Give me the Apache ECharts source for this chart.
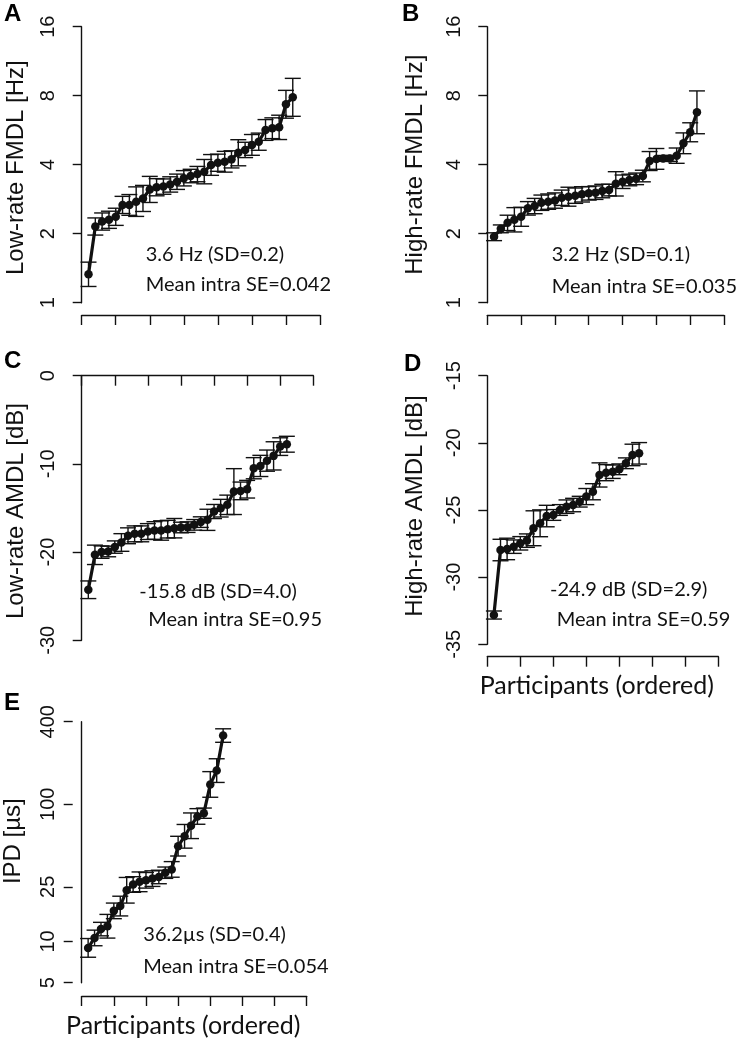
<!DOCTYPE html>
<html>
<head>
<meta charset="utf-8">
<script src="https://cdn.jsdelivr.net/npm/echarts@6/dist/echarts.min.js"></script>
<style>
html,body{margin:0;padding:0;background:#fff;}
#chart{width:742px;height:1039px;}
</style>
</head>
<body>
<div id="chart"></div>
<script>
// ---------- data ----------
const participantTicks = [0, 5, 10, 15, 20, 25, 30, 35];

const fmdlTicks = [1, 2, 4, 8, 16];
const fmdlLow = [1.33, 2.15, 2.26, 2.30, 2.37, 2.67, 2.67, 2.76, 2.85, 3.12, 3.19, 3.21, 3.28, 3.37, 3.49, 3.57,
  3.64, 3.73, 3.99, 4.08, 4.12, 4.22, 4.51, 4.64, 4.88, 5.04, 5.67, 5.77, 5.82, 7.34, 7.87];
const fmdlLowErr = [1.13, 1.09, 1.09, 1.09, 1.09, 1.09, 1.11, 1.16, 1.14, 1.14, 1.09, 1.08, 1.08, 1.08, 1.08, 1.07,
  1.08, 1.13, 1.11, 1.09, 1.11, 1.09, 1.14, 1.08, 1.11, 1.09, 1.11, 1.11, 1.13, 1.15, 1.21];

const fmdlHigh = [1.94, 2.10, 2.23, 2.30, 2.37, 2.58, 2.64, 2.73, 2.76, 2.79, 2.87, 2.90, 2.93, 2.97, 3.00, 3.02,
  3.07, 3.10, 3.30, 3.37, 3.43, 3.47, 3.57, 4.15, 4.24, 4.26, 4.26, 4.38, 4.96, 5.54, 6.77];
const fmdlHighErr = [1.04, 1.04, 1.08, 1.13, 1.10, 1.07, 1.08, 1.08, 1.08, 1.08, 1.08, 1.10, 1.08, 1.08, 1.07, 1.07,
  1.07, 1.06, 1.13, 1.07, 1.06, 1.06, 1.06, 1.10, 1.11, 1.03, 1.03, 1.08, 1.11, 1.10, 1.24];

const amdlLowTicks = [-30, -20, -10, 0];
const amdlLow = [-24.27, -20.31, -20.0, -19.93, -19.43, -18.91, -18.15, -17.93, -17.93, -17.67, -17.55, -17.55,
  -17.40, -17.29, -17.21, -17.17, -16.91, -16.6, -16.34, -15.40, -15.02, -14.64, -13.14, -13.06, -12.87,
  -10.49, -10.23, -9.63, -9.09, -8.04, -7.77];
const amdlLowErr = [1.0, 1.1, 0.7, 0.6, 0.7, 1.0, 0.9, 0.9, 0.9, 0.9, 1.0, 1.1, 1.0, 1.1, 0.6, 0.6, 0.6, 0.6,
  1.2, 0.8, 1.0, 1.1, 2.6, 1.0, 1.0, 1.2, 1.2, 1.2, 1.6, 1.0, 0.9];

const amdlHighTicks = [-35, -30, -25, -20, -15];
const amdlHigh = [-32.82, -27.98, -27.9, -27.73, -27.48, -27.28, -26.36, -25.99, -25.45, -25.37, -25.0, -24.75,
  -24.63, -24.38, -24.0, -23.64, -22.39, -22.22, -22.15, -21.97, -21.52, -20.9, -20.78];
const amdlHighErr = [0.3, 0.8, 0.8, 0.5, 0.5, 0.5, 1.3, 1.0, 0.8, 0.4, 0.4, 0.5, 0.5, 0.4, 0.6, 0.6, 0.9, 0.6,
  0.5, 0.4, 0.4, 0.8, 0.8];

const ipdTicks = [5, 10, 25, 100, 400];
const ipd = [8.97, 10.6, 12.3, 12.9, 16.7, 18.1, 23.6, 26.0, 27.2, 27.9, 28.7, 29.5, 31.7, 33.5, 49.5, 58.4,
  69.7, 81.5, 86.1, 139.5, 176, 317];
const ipdErr = [1.17, 1.14, 1.12, 1.22, 1.14, 1.18, 1.24, 1.14, 1.18, 1.14, 1.14, 1.12, 1.10, 1.14, 1.18, 1.22,
  1.24, 1.14, 1.09, 1.24, 1.22, 1.12];

const panelLetters = ['A', 'B', 'C', 'D', 'E'];
const yTitles = ['Low-rate FMDL [Hz]', 'High-rate FMDL [Hz]', 'Low-rate AMDL [dB]', 'High-rate AMDL [dB]', 'IPD [\u00b5s]'];
const xTitle = 'Participants (ordered)';
const notes = [
  ['3.6 Hz (SD=0.2)', 'Mean intra SE=0.042'],
  ['3.2 Hz (SD=0.1)', 'Mean intra SE=0.035'],
  ['-15.8 dB (SD=4.0)', 'Mean intra SE=0.95'],
  ['-24.9 dB (SD=2.9)', 'Mean intra SE=0.59'],
  ['36.2\u00b5s (SD=0.4)', 'Mean intra SE=0.054']
];

// ---------- helpers ----------
const SANS = '"Liberation Sans", Arial, sans-serif';
const NOTE = 'Lato, "Open Sans", sans-serif';
const INK = '#111';

function pts(vals) { return vals.map((v, i) => [i + 1, v]); }
function barsMul(vals, r) { return vals.map((v, i) => [i + 1, v / r[i], v * r[i]]); }
function barsAdd(vals, e) { return vals.map((v, i) => [i + 1, v - e[i], v + e[i]]); }

function errRender(params, api) {
  const x = api.value(0);
  const a = api.coord([x, api.value(1)]);
  const b = api.coord([x, api.value(2)]);
  const hw = 8;
  const st = { stroke: INK, lineWidth: 1.4 };
  return {
    type: 'group',
    children: [
      { type: 'line', shape: { x1: a[0], y1: a[1], x2: b[0], y2: b[1] }, style: st },
      { type: 'line', shape: { x1: a[0] - hw, y1: a[1], x2: a[0] + hw, y2: a[1] }, style: st },
      { type: 'line', shape: { x1: b[0] - hw, y1: b[1], x2: b[0] + hw, y2: b[1] }, style: st }
    ]
  };
}

const grids = [
  { left: 81.7, top: 26.7, width: 238.3, height: 276 },
  { left: 487.3, top: 26.7, width: 236.7, height: 276 },
  { left: 81.7, top: 375.7, width: 231.6, height: 264.6 },
  { left: 487.3, top: 375.7, width: 231, height: 268.6 },
  { left: 81.7, top: 721.7, width: 225, height: 263.3 }
];
const xOffsets = [12.3, 12.3, 16.4, 12.4, 13.3];
const yNameGaps = [44, 51, 44, 51, 47];
const yNamePad = [[0, 6, 0, 0], [0, 0, 0, 0], [0, 6, 0, 0], [0, 0, 0, 8], [0, 0, 0, 22]];

const axisLineStyle = { color: INK, width: 1.4 };

function xAxisFor(k) {
  const ax = {
    gridIndex: k, type: 'value',
    min: participantTicks[0], max: participantTicks[participantTicks.length - 1],
    interval: participantTicks[1] - participantTicks[0],
    offset: xOffsets[k],
    axisLine: { show: true, lineStyle: axisLineStyle },
    axisTick: { show: true, length: 10, lineStyle: axisLineStyle },
    axisLabel: { show: false },
    splitLine: { show: false }
  };
  if (k === 3 || k === 4) {
    ax.name = xTitle;
    ax.nameLocation = 'middle';
    ax.nameGap = 17;
    ax.nameTextStyle = { fontFamily: NOTE, fontSize: 25, color: INK, verticalAlign: 'top',
      padding: [0, k === 4 ? 22 : 12, 0, 0] };
  }
  return ax;
}

function yAxisBase(k) {
  return {
    gridIndex: k, position: 'left', offset: 9,
    axisLine: { show: true, lineStyle: axisLineStyle },
    axisTick: { show: true, length: 9, lineStyle: axisLineStyle },
    axisLabel: { show: true, rotate: 90, fontFamily: SANS, fontSize: 20, color: INK, margin: 14 },
    splitLine: { show: false },
    minorTick: { show: false },
    name: yTitles[k], nameLocation: 'middle', nameGap: yNameGaps[k],
    nameTextStyle: { fontFamily: SANS, fontSize: 24, color: INK, padding: yNamePad[k] }
  };
}

const yAxes = [];
// A
yAxes.push(Object.assign(yAxisBase(0), { type: 'log', logBase: 2, min: fmdlTicks[0], max: fmdlTicks[fmdlTicks.length - 1] }));
// B
yAxes.push(Object.assign(yAxisBase(1), { type: 'log', logBase: 2, min: fmdlTicks[0], max: fmdlTicks[fmdlTicks.length - 1] }));
// C
yAxes.push(Object.assign(yAxisBase(2), { type: 'value', min: amdlLowTicks[0], max: amdlLowTicks[amdlLowTicks.length - 1],
  interval: amdlLowTicks[1] - amdlLowTicks[0] }));
// D
yAxes.push(Object.assign(yAxisBase(3), { type: 'value', min: amdlHighTicks[0], max: amdlHighTicks[amdlHighTicks.length - 1],
  interval: amdlHighTicks[1] - amdlHighTicks[0] }));
// E: data on a log axis, ticks/labels at irregular positions on a matching log10 guide axis
const eAxis = yAxisBase(4);
yAxes.push(Object.assign(eAxis, { type: 'log', logBase: 10, min: ipdTicks[0], max: ipdTicks[ipdTicks.length - 1],
  axisTick: { show: false }, axisLabel: { show: false } }));
const eGuide = {
  gridIndex: 4, position: 'left', offset: 9, type: 'value',
  min: Math.log10(ipdTicks[0]), max: Math.log10(ipdTicks[ipdTicks.length - 1]),
  axisLine: { show: false },
  axisTick: { show: true, length: 9, lineStyle: axisLineStyle, customValues: ipdTicks.map(Math.log10) },
  axisLabel: { show: true, rotate: 90, fontFamily: SANS, fontSize: 20, color: INK, margin: 14,
    customValues: ipdTicks.map(Math.log10), formatter: v => String(Math.round(Math.pow(10, v))) },
  splitLine: { show: false }
};
yAxes.push(eGuide);

const panels = [
  { pts: pts(fmdlLow), bars: barsMul(fmdlLow, fmdlLowErr) },
  { pts: pts(fmdlHigh), bars: barsMul(fmdlHigh, fmdlHighErr) },
  { pts: pts(amdlLow), bars: barsAdd(amdlLow, amdlLowErr) },
  { pts: pts(amdlHigh), bars: barsAdd(amdlHigh, amdlHighErr) },
  { pts: pts(ipd), bars: barsMul(ipd, ipdErr) }
];

const series = [];
panels.forEach((p, k) => {
  series.push({
    type: 'custom', xAxisIndex: k, yAxisIndex: k, renderItem: errRender,
    encode: { x: 0, y: [1, 2] }, data: p.bars, silent: true, z: 2
  });
  series.push({
    type: 'line', xAxisIndex: k, yAxisIndex: k, data: p.pts,
    symbol: 'circle', symbolSize: 8.5, showSymbol: true,
    lineStyle: { color: INK, width: 3.2 }, itemStyle: { color: INK },
    silent: true, z: 3, animation: false
  });
});

// text: panel letters and annotations
const letterPos = [[4, 2], [402, 2], [4, 349], [404, 352], [4, 691]];
const notePos = [
  [[145.7, 255], [145.7, 285]],
  [[551.7, 255], [551.7, 286.7]],
  [[139.3, 591.7], [148.3, 620]],
  [[550, 590], [556.7, 620]],
  [[143.3, 935], [143.3, 966.7]]
];
const graphics = [];
panelLetters.forEach((L, k) => {
  graphics.push({ type: 'text', x: letterPos[k][0], y: letterPos[k][1],
    style: { text: L, fontFamily: SANS, fontWeight: 'bold', fontSize: 24, fill: '#000', verticalAlign: 'top' } });
  notes[k].forEach((t, j) => {
    graphics.push({ type: 'text', x: notePos[k][j][0], y: notePos[k][j][1],
      style: { text: t, fontFamily: NOTE, fontSize: 20, fill: INK, verticalAlign: 'middle', align: 'left' } });
  });
});

const chart = echarts.init(document.getElementById('chart'), null, { renderer: 'canvas' });
chart.setOption({
  animation: false,
  backgroundColor: '#fff',
  grid: grids,
  xAxis: [0, 1, 2, 3, 4].map(xAxisFor),
  yAxis: yAxes,
  series: series,
  graphic: graphics
});
</script>
</body>
</html>
